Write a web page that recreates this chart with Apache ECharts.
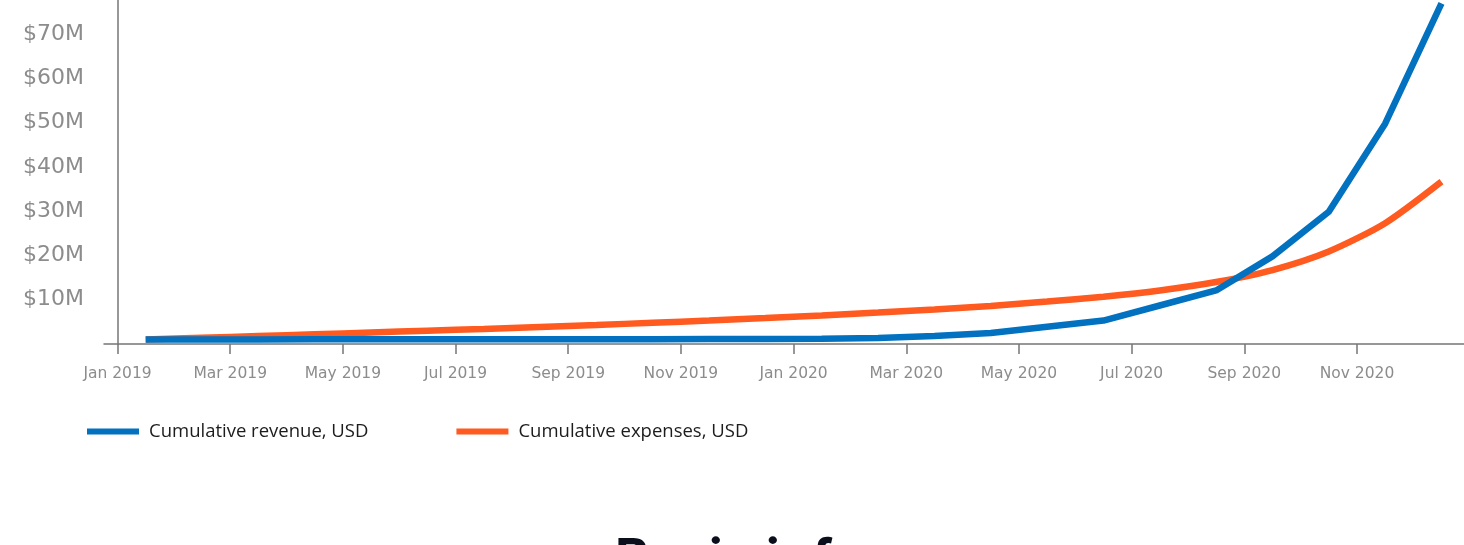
<!DOCTYPE html>
<html>
<head>
<meta charset="utf-8">
<title>Cumulative revenue and expenses</title>
<script src="https://cdn.jsdelivr.net/npm/echarts@6/dist/echarts.min.js"></script>
<style>
  html, body { margin: 0; padding: 0; background: #ffffff; overflow: hidden; }
  /* the canvas starts a little above the viewport so the top of the value axis runs off the edge */
  #chart { position: relative; top: -10px; width: 1464px; height: 555px; }
</style>
</head>
<body>
<div id="chart"></div>
<script>
// Monthly figures, millions of USD
const months = [
  '2019-01', '2019-02', '2019-03', '2019-04', '2019-05', '2019-06',
  '2019-07', '2019-08', '2019-09', '2019-10', '2019-11', '2019-12',
  '2020-01', '2020-02', '2020-03', '2020-04', '2020-05', '2020-06',
  '2020-07', '2020-08', '2020-09', '2020-10', '2020-11', '2020-12'
];
const revenue = [
  1.0, 1.0, 1.0, 1.05, 1.05, 1.05, 1.1, 1.1, 1.1, 1.1, 1.15, 1.15,
  1.2, 1.35, 1.8, 2.5, 3.9, 5.3, 8.7, 12.1, 19.8, 29.9, 49.8, 77.0
];
const expenses = [
  1.0, 1.4, 1.8, 2.2, 2.6, 3.0, 3.4, 3.85, 4.3, 4.8, 5.3, 5.85,
  6.45, 7.1, 7.8, 8.6, 9.6, 10.7, 12.1, 14.0, 16.7, 20.9, 27.3, 36.7
];
const seriesNames = ['Cumulative revenue, USD', 'Cumulative expenses, USD'];
const tickLabels = [
  'Jan 2019', 'Mar 2019', 'May 2019', 'Jul 2019', 'Sep 2019', 'Nov 2019',
  'Jan 2020', 'Mar 2020', 'May 2020', 'Jul 2020', 'Sep 2020', 'Nov 2020'
];
const monthNames = ['Jan', 'Feb', 'Mar', 'Apr', 'May', 'Jun', 'Jul', 'Aug', 'Sep', 'Oct', 'Nov', 'Dec'];
const heading = 'Basic info';

// x values are months since Jan 2019; each monthly figure sits mid-month
const START_YEAR = 2019;
function monthOffset(year, monthIdx) { return (year - START_YEAR) * 12 + monthIdx; }
function fromIso(s) {
  const [y, m] = s.split('-').map(Number);
  return monthOffset(y, m - 1) + 0.5;
}
function fromLabel(s) {
  const [name, y] = s.split(' ');
  return monthOffset(Number(y), monthNames.indexOf(name));
}
function labelFor(v) {
  const k = Math.round(v);
  return monthNames[((k % 12) + 12) % 12] + ' ' + (START_YEAR + Math.floor(k / 12));
}

const tickValues = tickLabels.map(fromLabel);
const revenuePts = months.map((m, i) => [fromIso(m), revenue[i]]);
const expensePts = months.map((m, i) => [fromIso(m), expenses[i]]);

const AXIS = '#767676';
const LABEL = '#8c8c8c';
const BLUE = '#0271c0';
const ORANGE = '#ff5a1f';

const chart = echarts.init(document.getElementById('chart'), null, { renderer: 'canvas' });
chart.setOption({
  animation: false,
  backgroundColor: '#ffffff',
  grid: { left: 104, right: 0, top: 0, bottom: 201, containLabel: false, outerBoundsMode: 'none' },
  xAxis: {
    type: 'value',
    min: -0.24,
    max: 23.9,
    axisLine: { show: true, onZero: false, lineStyle: { color: AXIS, width: 1.5 } },
    axisTick: { show: true, customValues: tickValues, length: 10, lineStyle: { color: AXIS, width: 1.5 } },
    axisLabel: {
      customValues: tickValues,
      formatter: labelFor,
      color: LABEL,
      fontFamily: 'DejaVu Sans',
      fontSize: 15.5,
      margin: 22
    },
    splitLine: { show: false }
  },
  yAxis: {
    type: 'value',
    min: 0,
    max: 80,
    interval: 10,
    axisLine: { show: true, onZero: true, lineStyle: { color: AXIS, width: 1.5 } },
    axisTick: { show: false },
    axisLabel: {
      formatter: v => (v === 0 ? '' : '$' + v + 'M'),
      color: LABEL,
      fontFamily: 'DejaVu Sans',
      fontSize: 22,
      margin: 20,
      padding: [4, 0, 0, 0]
    },
    splitLine: { show: false }
  },
  legend: {
    data: seriesNames,
    left: 82,
    top: 427,
    icon: 'rect',
    itemWidth: 52,
    itemHeight: 6,
    itemGap: 88,
    textStyle: { color: '#1c1c1c', fontFamily: 'Open Sans', fontSize: 18.5, padding: [0, 0, 0, 5] }
  },
  series: [
    {
      name: seriesNames[1],
      type: 'line',
      data: expensePts,
      showSymbol: false,
      smooth: 0.25,
      lineStyle: { color: ORANGE, width: 6.5 },
      itemStyle: { color: ORANGE },
      z: 2
    },
    {
      name: seriesNames[0],
      type: 'line',
      data: revenuePts,
      showSymbol: false,
      lineStyle: { color: BLUE, width: 6.5 },
      itemStyle: { color: BLUE },
      z: 3
    }
  ],
  graphic: [
    {
      type: 'text',
      left: 615,
      top: 544,
      style: {
        text: heading,
        fill: '#0b0f1c',
        font: 'bold 52px Inter'
      }
    }
  ]
});
</script>
</body>
</html>
